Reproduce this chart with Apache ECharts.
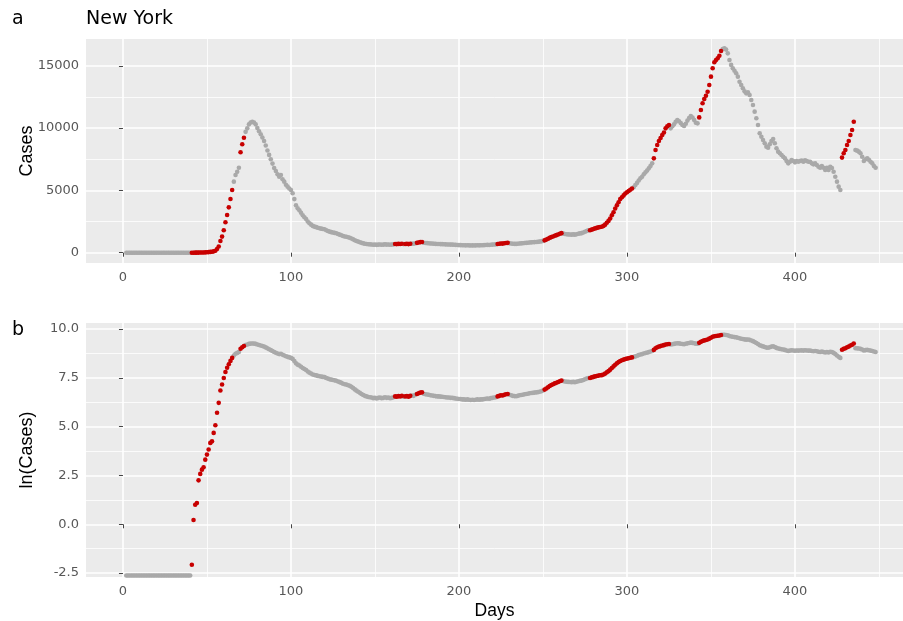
<!DOCTYPE html>
<html>
<head>
<meta charset="utf-8">
<title>New York</title>
<script src="https://cdn.jsdelivr.net/npm/echarts@6/dist/echarts.min.js"></script>
<style>
  html,body{margin:0;padding:0;background:#fff;}
  #chart{width:903px;height:621px;}
</style>
</head>
<body>
<div id="chart"></div>
<script>
// daily cases, first value is day 2
var firstDay = 2;
var cases = [
  0,0,0,0,0,0,0,0,0,0, 0,0,0,0,0,0,0,0,0,0, 0,0,0,0,0,0,0,0,0,0, 0,0,0,0,0,0,0,0,0,
  0.126,1.25,2.72,2.97,9.5,13.2,16.4,18.5,27.4,35.5,
  46,64.7,70,108,159,302,503,944,1290,1800,
  2440,3030,3640,4310,5030,5700,6240,6500,6820,8060,
  8700,9230,9700,9980,10300,10450,10510,10450,10300,10000,
  9750,9500,9250,8960,8600,8200,7850,7500,7150,6800,
  6560,6300,6100,6240,5900,5700,5450,5300,5150,5030,
  4770,4300,3800,3560,3400,3200,3000,2850,2700,2500,
  2360,2250,2150,2090,2050,2000,1960,1930,1900,1880,
  1800,1740,1690,1650,1620,1590,1560,1500,1450,1400,
  1340,1300,1280,1240,1200,1140,1070,1000,940,890,
  840,790,750,720,700,680,670,660,640,650,
  630,650,660,640,650,670,650,660,640,650,
  670,700,690,710,700,720,690,700,710,690,
  720,730,720,760,790,820,850,860,800,780,
  770,760,740,735,720,710,700,700,690,685,
  680,670,660,660,650,650,640,630,620,610,
  610,600,600,590,600,590,580,590,580,590,
  600,590,600,600,610,620,630,620,640,650,
  660,670,700,720,740,730,760,780,790,760,
  740,720,710,705,720,740,750,760,780,790,
  800,820,830,840,850,860,870,890,910,945,
  990,1050,1120,1190,1250,1300,1360,1410,1460,1520,
  1570,1540,1500,1480,1470,1460,1450,1470,1450,1480,
  1520,1550,1570,1620,1680,1740,1800,1800,1850,1900,
  1950,1990,2030,2060,2080,2150,2250,2400,2550,2750,
  3000,3250,3550,3800,4050,4300,4450,4600,4750,4850,
  4950,5050,5150,5250,5430,5600,5800,5970,6100,6300,
  6450,6600,6770,6950,7170,7570,8240,8640,8960,9200,
  9450,9650,9980,10150,10250,9980,10150,10300,10500,10650,
  10550,10400,10250,10170,10350,10600,10800,10970,10850,10650,
  10430,10380,10860,11450,11990,12330,12600,12920,13460,14130,
  14800,15280,15470,15600,15810,16190,16350,16400,16300,16000,
  15470,15070,14800,14600,14400,14130,13720,13450,13200,12950,
  12790,12870,12660,12260,11850,11320,10790,10250,9580,9310,
  9050,8780,8510,8430,8700,8960,9130,8780,8380,8110,
  7980,7840,7700,7570,7360,7170,7300,7440,7360,7250,
  7360,7300,7360,7400,7300,7420,7360,7300,7300,7170,
  7090,7170,7040,6900,6820,6960,6820,6640,6820,6640,
  6900,6800,6500,6100,5700,5300,5030,7630,7980,8240,
  8640,8960,9450,9850,10510,8240,8190,8110,7980,7700,
  7360,7500,7570,7450,7300,7170,6960,6820
];
// day ranges drawn in red
var redSpans = [[41,65],[70,72],[162,166],[168,171],[175,178],[223,229],[251,261],[278,303],[316,325],[343,356],[428,435]];
// where the zero days sit on the ln panel
var lnOfZero = -2.62;

var dayTicks = [0,100,200,300,400];
var dayMinor = [50,150,250,350,450];
var caseTicks = [0,5000,10000,15000];
var caseMinor = [2500,7500,12500];
var lnTicks = [-2.5,0,2.5,5,7.5,10];
var lnMinor = [-1.25,1.25,3.75,6.25,8.75];

function isRed(day){
  for(var i=0;i<redSpans.length;i++){
    if(day>=redSpans[i][0] && day<=redSpans[i][1]) return true;
  }
  return false;
}

var grayTop=[],redTop=[],grayLn=[],redLn=[];
for(var i=0;i<cases.length;i++){
  var d = firstDay+i, c = cases[i];
  var ln = c>0 ? Math.log(c) : lnOfZero;
  if(isRed(d)){
    redTop.push([d,c]); redLn.push([d,ln]);
  }else{
    grayTop.push([d,c]); grayLn.push([d,ln]);
  }
}

var tickFont = {fontFamily:'DejaVu Sans',fontSize:13,color:'#575757'};

function mainAxis(gridIndex, pos, min, max, ticks, fmt){
  return {
    type:'value', gridIndex:gridIndex, position:pos, min:min, max:max,
    axisLine:{show:false},
    axisTick:{show:true,length:4,lineStyle:{color:'#444',width:1},customValues:ticks},
    axisLabel:Object.assign({show:true,margin:pos=='left'?7:8,customValues:ticks,formatter:fmt}, tickFont),
    splitLine:{show:true,lineStyle:{color:'#fff',width:1.6}},
    minorSplitLine:{show:false}
  };
}
function minorAxis(gridIndex, pos, min, max, ticks){
  return {
    type:'value', gridIndex:gridIndex, position:pos, min:min, max:max,
    axisLine:{show:false},
    axisTick:{show:false,customValues:ticks},
    axisLabel:{show:false,customValues:ticks},
    splitLine:{show:true,lineStyle:{color:'#fff',width:0.8}}
  };
}

var xMin = -22, xMax = 464.3;
var dayFmt = function(v){ return v+''; };

var xTop = mainAxis(0,'bottom',xMin,xMax,dayTicks,dayFmt);
var xBot = mainAxis(1,'bottom',xMin,xMax,dayTicks,dayFmt);
xBot.name = 'Days';
xBot.nameLocation = 'middle';
xBot.nameGap = 25;
xBot.nameTextStyle = {fontFamily:'Liberation Sans',fontSize:17.5,color:'#000'};

var yTop = mainAxis(0,'left',-827,17150,caseTicks,function(v){return v+'';});
yTop.name = 'Cases';
yTop.nameLocation = 'middle';
yTop.nameGap = 50;
yTop.nameMoveOverlap = false;
yTop.nameTextStyle = {fontFamily:'Liberation Sans',fontSize:18,color:'#000'};

var yBot = mainAxis(1,'left',-2.70,10.31,lnTicks,function(v){return v.toFixed(1);});
yBot.name = 'ln(Cases)';
yBot.nameLocation = 'middle';
yBot.nameGap = 50;
yBot.nameMoveOverlap = false;
yBot.nameTextStyle = {fontFamily:'Liberation Sans',fontSize:18,color:'#000'};

function dots(name, data, color, xi, yi){
  return {
    name:name, type:'scatter', xAxisIndex:xi, yAxisIndex:yi, data:data,
    symbol:'circle', symbolSize:4.6, silent:true,
    itemStyle:{color:color, opacity:1},
    emphasis:{disabled:true}
  };
}

var chart = echarts.init(document.getElementById('chart'), null, {renderer:'canvas'});
chart.setOption({
  animation:false,
  backgroundColor:'#ffffff',
  title:[
    {text:'a',left:12,top:10,padding:0,textStyle:{fontFamily:'DejaVu Sans',fontSize:19,fontWeight:'normal',color:'#000'}},
    {text:'New York',left:86,top:10,padding:0,textStyle:{fontFamily:'DejaVu Sans',fontSize:19,fontWeight:'normal',color:'#000'}},
    {text:'b',left:12,top:321,padding:0,textStyle:{fontFamily:'DejaVu Sans',fontSize:19,fontWeight:'normal',color:'#000'}}
  ],
  grid:[
    {left:86,top:39,width:817,height:224,show:true,backgroundColor:'#ebebeb',borderWidth:0},
    {left:86,top:323,width:817,height:254,show:true,backgroundColor:'#ebebeb',borderWidth:0}
  ],
  xAxis:[
    xTop,
    minorAxis(0,'top',xMin,xMax,dayMinor),
    xBot,
    minorAxis(1,'top',xMin,xMax,dayMinor)
  ],
  yAxis:[
    yTop,
    minorAxis(0,'right',-827,17150,caseMinor),
    yBot,
    minorAxis(1,'right',-2.70,10.31,lnMinor)
  ],
  series:[
    dots('gray',grayTop,'#a9a9a9',0,0),
    dots('red',redTop,'#c80000',0,0),
    dots('gray ln',grayLn,'#a9a9a9',2,2),
    dots('red ln',redLn,'#c80000',2,2)
  ]
});
</script>
</body>
</html>
